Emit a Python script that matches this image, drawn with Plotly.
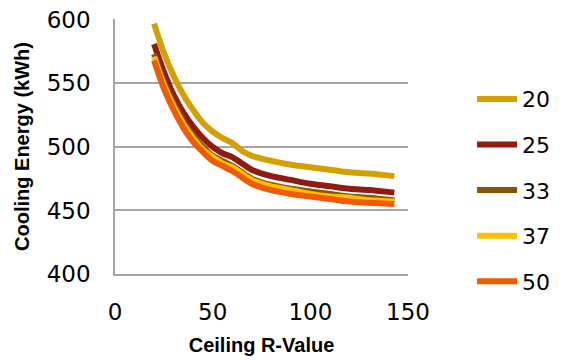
import plotly.graph_objects as go

# ceiling R-value (x) and cooling energy per series (kWh)
r_values = [20, 25, 30, 35, 40, 45, 50, 55, 60, 65, 70, 80, 90, 100, 110, 120, 130, 143]

series_names = ["20", "25", "33", "37", "50"]
energy_20 = [597, 574, 556, 541, 529, 519, 512, 507, 503, 497, 493, 489, 486, 484, 482, 480, 479, 477]
energy_25 = [581, 559, 541, 527, 516, 507, 500, 495, 492, 487, 482, 477, 474, 471, 469, 467, 466, 464]
energy_33 = [573, 551, 534, 520, 509, 500, 493, 489, 485, 480, 475, 470, 467, 465, 463, 461, 460, 458]
energy_37 = [571, 549, 532, 518, 507, 498, 492, 487, 484, 479, 474, 469, 466, 463, 461, 460, 458, 457]
energy_50 = [568, 546, 529, 515, 504, 496, 489, 485, 481, 476, 471, 466, 463, 461, 459, 457, 456, 455]

colors = ["#D4A000", "#8E1C12", "#8A5400", "#FFC000", "#F05A00"]

fig = go.Figure()
for i, (name, ys) in enumerate(zip(series_names,
                                   [energy_20, energy_25, energy_33, energy_37, energy_50])):
    fig.add_trace(go.Scatter(
        x=r_values, y=ys, name=name, mode="lines",
        line=dict(color=colors[i], width=6, shape="spline", smoothing=0.8),
        legendgroup=name,
    ))

fig.update_layout(
    width=564, height=360,
    margin=dict(l=115, r=156, t=19, b=86),
    plot_bgcolor="white", paper_bgcolor="white",
    font=dict(family="DejaVu Sans, sans-serif", size=23, color="black"),
    showlegend=True,
    legend=dict(xref="container", yref="container", x=0.837, y=0.472,
                xanchor="left", yanchor="middle", maxheight=1.0,
                font=dict(size=22), tracegroupgap=14, itemwidth=40),
)

fig.update_xaxes(
    range=[0, 150], dtick=50, showgrid=False, automargin=False,
    showline=True, linecolor="#A6A6A6", linewidth=1.5,
    ticks="", ticklabelstandoff=17,
    title=dict(text="<b>Ceiling R-Value</b>", font=dict(size=20,
               family="Liberation Sans, Arial"), standoff=14),
)
# top of range a hair above 600 so the 600 gridline is drawn
fig.update_yaxes(
    range=[400, 600.6], tickvals=[400, 450, 500, 550, 600],
    showgrid=True, gridcolor="#A6A6A6", gridwidth=1.5,
    showline=True, linecolor="#A6A6A6", linewidth=1.5, automargin=False,
    ticks="", zeroline=False, ticklabelstandoff=18,
    title=dict(text="<b>Cooling Energy (kWh)</b>", font=dict(size=20,
               family="Liberation Sans, Arial"), standoff=12),
)

# drop the default page margin so the figure sits at the window's corner
fig.write_html("out.html", config={"displayModeBar": False},
               post_script="document.body.style.margin='0';")
